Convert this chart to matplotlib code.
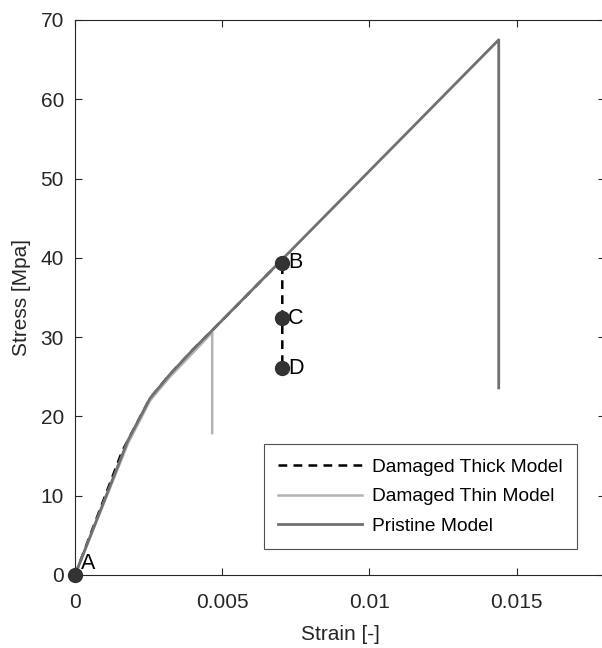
import matplotlib
matplotlib.use('Agg')
from matplotlib import pyplot as plt

plt.rcParams['font.family'] = ['Liberation Sans', 'DejaVu Sans']

# curve data
strain_pristine = [0, 0.0018, 0.00255, 0.0032, 0.004, 0.0047, 0.01439, 0.01439]
stress_pristine = [0, 17.0, 22.3, 25.2, 28.4, 31.0, 67.5, 23.6]

strain_thin = [0, 0.0018, 0.00255, 0.0032, 0.004, 0.00466, 0.00466]
stress_thin = [0, 16.6, 22.0, 24.9, 28.0, 30.6, 17.9]

strain_thick = [0, 0.0016, 0.00255, 0.0032, 0.004, 0.0047, 0.00704, 0.00704]
stress_thick = [0, 15.6, 22.3, 25.2, 28.4, 31.0, 39.8, 26.1]

point_names = ['A', 'B', 'C', 'D']
point_strain = [0, 0.00704, 0.00704, 0.00704]
point_stress = [0, 39.4, 32.4, 26.1]

xticks = [0, 0.005, 0.01, 0.015]
xticklabels = ['0', '0.005', '0.01', '0.015']
yticks = [0, 10, 20, 30, 40, 50, 60, 70]

fig = plt.figure(figsize=(6.02, 6.48), dpi=100)
ax = fig.add_axes([0.1246, 0.1127, 0.8804, 0.8565])

ax.plot(strain_thick, stress_thick, '--', color='black', lw=1.8, label='Damaged Thick Model', dashes=(3.5, 2.5))
ax.plot(strain_thin, stress_thin, color='#b3b3b3', lw=1.8, label='Damaged Thin Model')
ax.plot(strain_pristine, stress_pristine, color='#707070', lw=2.0, label='Pristine Model')

ax.plot(point_strain, point_stress, 'o', color='#333333', ms=10, clip_on=False, zorder=5)
offsets = {'A': (0.0002, 1.5), 'B': (0.0002, 0), 'C': (0.0002, 0), 'D': (0.0002, 0)}
for name, x, y in zip(point_names, point_strain, point_stress):
    dx, dy = offsets[name]
    ax.text(x + dx, y + dy, name, fontsize=15.5, va='center', ha='left', color='black')

ax.set_xlim(0, 0.018)
ax.set_ylim(0, 70)
ax.set_xticks(xticks)
ax.set_xticklabels(xticklabels)
ax.set_yticks(yticks)
ax.tick_params(direction='in', length=5, width=0.8, labelsize=15, colors='#262626',
               top=True, right=True)
ax.tick_params(axis='x', pad=13)
ax.tick_params(axis='y', pad=8)
for s in ax.spines.values():
    s.set_color('#262626')
    s.set_linewidth(0.8)

ax.set_xlabel('Strain [-]', fontsize=15, color='#262626', labelpad=9)
ax.set_ylabel('Stress [Mpa]', fontsize=15, color='#262626', labelpad=7)

leg = ax.legend(loc='lower right', bbox_to_anchor=(0.947, 0.047), fontsize=13.8,
                frameon=True, fancybox=False, edgecolor='#262626', handlelength=4.4,
                handletextpad=0.5, labelspacing=0.62, borderpad=0.75, borderaxespad=0)
leg.get_frame().set_linewidth(0.8)

fig.savefig('out.png', dpi=100)
